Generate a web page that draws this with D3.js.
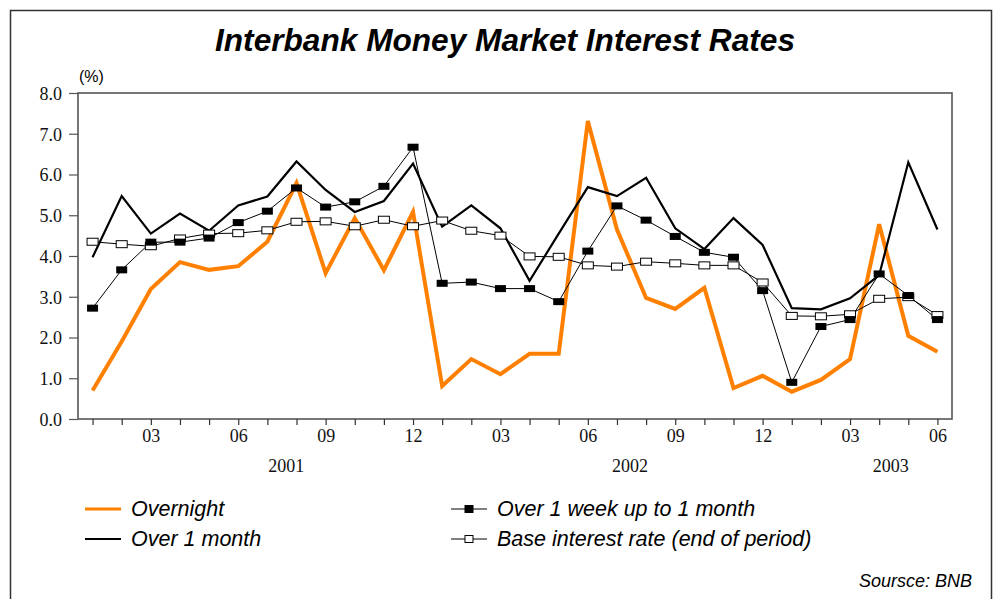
<!DOCTYPE html>
<html>
<head>
<meta charset="utf-8">
<script src="https://cdn.jsdelivr.net/npm/d3@7"></script>
<style>
body { margin: 0; background: #fff; }
svg { display: block; }
</style>
</head>
<body>
<div id="viz"></div>
<script>
var width = 997;
var height = 599;

// months Jan 2001 .. Jun 2003
var months = ["01","02","03","04","05","06","07","08","09","10","11","12",
	"01","02","03","04","05","06","07","08","09","10","11","12",
	"01","02","03","04","05","06"];
var shownMonths = ["03", "06", "09", "12"];
var years = ["2001", "2002", "2003"];
var yearPos = [6.65, 18.45, 27.4];

var overnight = [0.7, 1.9, 3.19, 3.85, 3.66, 3.75, 4.35, 5.79, 3.58, 4.93, 3.65, 5.08,
	0.81, 1.47, 1.1, 1.6, 1.6, 7.31, 4.65, 2.97, 2.7, 3.22, 0.76, 1.06,
	0.67, 0.96, 1.47, 4.78, 2.04, 1.65];
var overMonth = [3.97, 5.47, 4.55, 5.04, 4.62, 5.24, 5.46, 6.32, 5.62, 5.08, 5.35, 6.27,
	4.72, 5.24, 4.68, 3.39, 4.55, 5.69, 5.47, 5.92, 4.68, 4.17, 4.93, 4.27,
	2.72, 2.69, 2.96, 3.53, 6.3, 4.65];
var weekMonth = [2.72, 3.66, 4.34, 4.34, 4.44, 4.82, 5.1, 5.67, 5.2, 5.33, 5.71, 6.67,
	3.33, 3.36, 3.2, 3.2, 2.88, 4.12, 5.23, 4.88, 4.48, 4.09, 3.97, 3.15,
	0.9, 2.27, 2.44, 3.56, 3.03, 2.44];
var baseRate = [4.35, 4.29, 4.24, 4.43, 4.55, 4.56, 4.63, 4.84, 4.85, 4.73, 4.89, 4.73,
	4.87, 4.62, 4.5, 3.99, 3.98, 3.77, 3.74, 3.86, 3.82, 3.77, 3.77, 3.35,
	2.53, 2.52, 2.57, 2.95, 2.99, 2.55];
var yTicks = [0, 1, 2, 3, 4, 5, 6, 7, 8];

var plotLeft = 78, plotRight = 952, plotTop = 93, plotBottom = 419;
var orange = "#ff8000";
var serif = "Liberation Serif, Times New Roman, serif";
var sans = "Liberation Sans, Arial, sans-serif";

var x = d3.scalePoint()
	.domain(d3.range(months.length))
	.range([plotLeft, plotRight])
	.padding(0.5);

var xLin = d3.scaleLinear()
	.domain([0, months.length - 1])
	.range([x(0), x(months.length - 1)]);

var y = d3.scaleLinear()
	.domain([0, 8])
	.range([plotBottom, plotTop]);

var svg = d3.select("#viz").append("svg")
	.attr("width", width)
	.attr("height", height);

// outer frame
svg.append("path")
	.attr("d", "M10.5," + (height + 5) + "V10.5H991.5V" + (height + 5))
	.style("fill", "none")
	.style("stroke", "#333")
	.style("stroke-width", 1.5);

svg.append("text")
	.attr("x", 505)
	.attr("y", 51)
	.attr("text-anchor", "middle")
	.attr("textLength", 580)
	.attr("lengthAdjust", "spacingAndGlyphs")
	.style("font-family", sans)
	.style("font-weight", "bold")
	.style("font-style", "italic")
	.style("font-size", "31.5px")
	.text("Interbank Money Market Interest Rates");

svg.append("text")
	.attr("x", 79)
	.attr("y", 82)
	.style("font-family", sans)
	.style("font-size", "16px")
	.text("(%)");

// plot box
svg.append("rect")
	.attr("x", plotLeft)
	.attr("y", plotTop)
	.attr("width", plotRight - plotLeft)
	.attr("height", plotBottom - plotTop)
	.style("fill", "none")
	.style("stroke", "#555")
	.style("stroke-width", 1.6);

// y axis
var yAxis = d3.axisLeft(y)
	.tickValues(yTicks)
	.tickSize(9)
	.tickFormat(d3.format(".1f"));

var gy = svg.append("g")
	.attr("transform", "translate(" + plotLeft + ",0)")
	.call(yAxis);
gy.select(".domain").remove();
gy.selectAll("line").style("stroke", "#555").style("stroke-width", 1.2);
gy.selectAll("text")
	.attr("x", -16)
	.attr("dy", "0.36em")
	.style("font-family", serif)
	.style("font-size", "18px")
	.style("fill", "#111");

// x axis
var xAxis = d3.axisBottom(x)
	.tickSize(6)
	.tickFormat(function(i) { return shownMonths.indexOf(months[i]) >= 0 ? months[i] : ""; });

var gx = svg.append("g")
	.attr("transform", "translate(0," + plotBottom + ")")
	.call(xAxis);
gx.select(".domain").remove();
gx.selectAll("line").style("stroke", "#333").style("stroke-width", 1.2);
gx.selectAll("text")
	.attr("y", 23)
	.attr("dy", null)
	.style("font-family", serif)
	.style("font-size", "18px")
	.style("fill", "#111");

svg.selectAll(".year")
	.data(years)
	.enter().append("text")
	.attr("class", "year")
	.attr("x", function(d, i) { return xLin(yearPos[i]); })
	.attr("y", 472)
	.attr("text-anchor", "middle")
	.style("font-family", serif)
	.style("font-size", "18px")
	.style("fill", "#111")
	.text(function(d) { return d; });

var line = d3.line()
	.x(function(d, i) { return x(i); })
	.y(function(d) { return y(d); });

var plot = svg.append("g");

plot.append("path")
	.datum(overnight)
	.attr("d", line)
	.style("fill", "none")
	.style("stroke", orange)
	.style("stroke-width", 4)
	.style("stroke-linejoin", "miter");

plot.append("path")
	.datum(overMonth)
	.attr("d", line)
	.style("fill", "none")
	.style("stroke", "#000")
	.style("stroke-width", 2.2);

plot.append("path")
	.datum(baseRate)
	.attr("d", line)
	.style("fill", "none")
	.style("stroke", "#000")
	.style("stroke-width", 1);

plot.append("path")
	.datum(weekMonth)
	.attr("d", line)
	.style("fill", "none")
	.style("stroke", "#000")
	.style("stroke-width", 1);

var mw = 11, mh = 7;

plot.selectAll(".base")
	.data(baseRate)
	.enter().append("rect")
	.attr("class", "base")
	.attr("x", function(d, i) { return x(i) - mw / 2; })
	.attr("y", function(d) { return y(d) - mh / 2; })
	.attr("width", mw)
	.attr("height", mh)
	.style("fill", "#fff")
	.style("stroke", "#000")
	.style("stroke-width", 1);

plot.selectAll(".week")
	.data(weekMonth)
	.enter().append("rect")
	.attr("class", "week")
	.attr("x", function(d, i) { return x(i) - mw / 2; })
	.attr("y", function(d) { return y(d) - mh / 2; })
	.attr("width", mw)
	.attr("height", mh)
	.style("fill", "#000");

// legend
var legend = [
	{ name: "Overnight", type: "orange", col: 0, row: 0 },
	{ name: "Over 1 month", type: "thick", col: 0, row: 1 },
	{ name: "Over 1 week up to 1 month", type: "filled", col: 1, row: 0 },
	{ name: "Base interest rate (end of period)", type: "open", col: 1, row: 1 }
];
var legX = [85, 451], legY = [509, 539];

var lg = svg.selectAll(".leg")
	.data(legend)
	.enter().append("g")
	.attr("class", "leg")
	.attr("transform", function(d) { return "translate(" + legX[d.col] + "," + legY[d.row] + ")"; });

lg.append("line")
	.attr("x1", 0)
	.attr("x2", 36)
	.style("stroke", function(d) { return d.type == "orange" ? orange : "#000"; })
	.style("stroke-width", function(d) { return d.type == "orange" ? 3 : (d.type == "thick" ? 2 : 1); });

lg.filter(function(d) { return d.type == "filled" || d.type == "open"; })
	.append("rect")
	.attr("x", 14)
	.attr("y", -3.5)
	.attr("width", 8)
	.attr("height", 7)
	.style("fill", function(d) { return d.type == "filled" ? "#000" : "#fff"; })
	.style("stroke", "#000")
	.style("stroke-width", 1);

lg.append("text")
	.attr("x", 46)
	.attr("y", 7)
	.style("font-family", sans)
	.style("font-style", "italic")
	.style("font-size", "21.5px")
	.text(function(d) { return d.name; });

svg.append("text")
	.attr("x", 972)
	.attr("y", 587)
	.attr("text-anchor", "end")
	.style("font-family", sans)
	.style("font-style", "italic")
	.style("font-size", "18px")
	.text("Soursce: BNB");
</script>
</body>
</html>
